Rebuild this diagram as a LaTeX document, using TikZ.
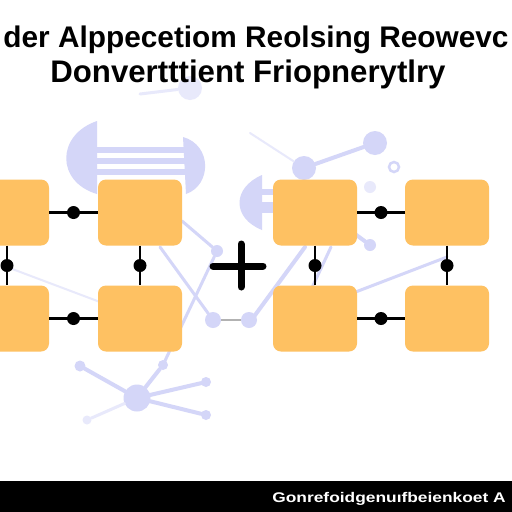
\documentclass[tikz,border=0pt]{standalone}
\usepackage{fontspec}
\setmainfont{Liberation Sans}
\definecolor{boxfill}{RGB}{254,193,98}
\definecolor{lav}{RGB}{212,214,248}
\definecolor{lavfaint}{RGB}{232,233,251}
\begin{document}
\begin{tikzpicture}[x=1pt,y=-1pt,
  block/.style={fill=boxfill, rounded corners=8pt, minimum width=84pt, minimum height=66pt, inner sep=0pt},
  link/.style={line width=2.5pt, black},
  joint/.style={circle, fill=black, minimum size=13pt, inner sep=0pt},
  net/.style={lav, line width=4pt, line cap=round},
  netfaint/.style={lavfaint, line width=3pt, line cap=round},
  bub/.style={circle, fill=lav, inner sep=0pt},
  bubfaint/.style={circle, fill=lavfaint, inner sep=0pt},
  plusarm/.style={line width=7pt, black, line cap=round}
]
\useasboundingbox (0,0) rectangle (512,512);
\clip (0,0) rectangle (512,512);
\fill[white] (0,0) rectangle (512,512);

% background network
\fill[lav] (97,121) .. controls (56,135) and (56,182) .. (97,194) -- cycle;
\fill[lav] (183,137) .. controls (212,145) and (212,185) .. (186,194) -- cycle;
\fill[lav] (96,147) rectangle (186,153);
\fill[lav] (96,158) rectangle (186,164);
\fill[lav] (96,169) rectangle (186,175);
\fill[lav] (262,175) .. controls (232,188) and (232,218) .. (262,230) -- cycle;
\fill[lav] (260,189) rectangle (276,195);
\fill[lav] (260,202) rectangle (276,213);

\node[bubfaint, minimum size=24pt] (n0) at (190,88) {};
\coordinate (f0) at (140,94);
\draw[netfaint] (f0) -- (n0);

\node[bub, minimum size=12pt] (n1) at (217,251) {};
\node[bub, minimum size=16pt] (n2) at (213,320) {};
\node[bub, minimum size=16pt] (n3) at (249,320) {};
\node[bub, minimum size=10pt] (n4) at (163,365) {};
\node[bub, minimum size=27pt] (n5) at (137,398) {};
\node[bub, minimum size=11pt] (n6) at (80,366) {};
\node[bub, minimum size=10pt] (n7) at (206,382) {};
\node[bub, minimum size=10pt] (n8) at (206,415) {};
\node[bubfaint, minimum size=9pt] (n9) at (87,420) {};
\coordinate (c1) at (182,221);
\coordinate (c2) at (160,247);
\draw[net, line width=3pt] (c1) -- (n1);
\draw[net, line width=3pt] (c2) -- (n2);
\draw[net, line width=3pt] (n1) -- (n4);
\draw[net] (n4) -- (n5);
\draw[net] (n5) -- (n6);
\draw[net] (n5) -- (n7);
\draw[net] (n5) -- (n8);
\draw[netfaint] (n5) -- (n9);
\draw[gray!60, line width=2pt] (n2) -- (n3);
\coordinate (c3) at (7,267);
\coordinate (c4) at (100,302);
\draw[netfaint, line width=2pt] (c3) -- (c4);

\node[bub, minimum size=24pt] (m1) at (375,143) {};
\node[bub, minimum size=24pt] (m2) at (304,168) {};
\draw[net] (m1) -- (m2);
\node[circle, draw=lav, line width=2.5pt, minimum size=10pt, inner sep=0pt] (m3) at (394,167) {};
\node[bubfaint, minimum size=12pt] (m4) at (370,187) {};
\node[bub, minimum size=12pt] (m5) at (370,245) {};
\coordinate (d1) at (355,234);
\draw[net] (d1) -- (m5);
\coordinate (d2) at (250,322);
\coordinate (d3) at (305,247);
\draw[net] (d2) -- (d3);
\coordinate (d4) at (310,292);
\coordinate (d5) at (331,247);
\draw[net, line width=3pt] (d4) -- (d5);
\coordinate (d6) at (353,293);
\coordinate (d7) at (447,257);
\draw[net, line width=3pt] (d6) -- (d7);
\coordinate (d8) at (250,133);
\draw[netfaint, line width=2pt] (d8) -- (m2);

% title
\node[anchor=base, font=\bfseries\fontsize{29.8}{32}\selectfont, inner sep=0pt] (t1) at (256,47) {der Alppecetiom Reolsing Reowevc};
\node[anchor=base, font=\bfseries\fontsize{31.2}{33}\selectfont, inner sep=0pt] (t2) at (248,82) {Donvertttient Friopnerytlry};

% blocks left
\node[block] (a1) at (7,212.5) {};
\node[block] (a2) at (140,212.5) {};
\node[block] (a3) at (7,318.5) {};
\node[block] (a4) at (140,318.5) {};
% blocks right
\node[block] (b1) at (315,212.5) {};
\node[block] (b2) at (447,212.5) {};
\node[block] (b3) at (315,318.5) {};
\node[block] (b4) at (447,318.5) {};

\draw[link] (a1.east) -- node[joint] (ja1) {} (a2.west);
\draw[link] (a3.east) -- node[joint] (ja2) {} (a4.west);
\draw[link] (a1.south) -- node[joint] (ja3) {} (a3.north);
\draw[link] (a2.south) -- node[joint] (ja4) {} (a4.north);
\draw[link] (b1.east) -- node[joint] (jb1) {} (b2.west);
\draw[link] (b3.east) -- node[joint] (jb2) {} (b4.west);
\draw[link] (b1.south) -- node[joint] (jb3) {} (b3.north);
\draw[link] (b2.south) -- node[joint] (jb4) {} (b4.north);

% plus
\coordinate (p1) at (213,266);
\coordinate (p2) at (263,266);
\coordinate (p3) at (241,244);
\coordinate (p4) at (241,287);
\draw[plusarm] (p1) -- (p2);
\draw[plusarm] (p3) -- (p4);

% footer
\fill[black] (0,481) rectangle (512,512);
\node[anchor=base east, text=white, font=\bfseries\fontsize{14}{15}\selectfont, xscale=1.24, inner sep=0pt] (ft) at (506,502) {Gonrefoidgenuıfbeienkoet A};
\end{tikzpicture}
\end{document}
